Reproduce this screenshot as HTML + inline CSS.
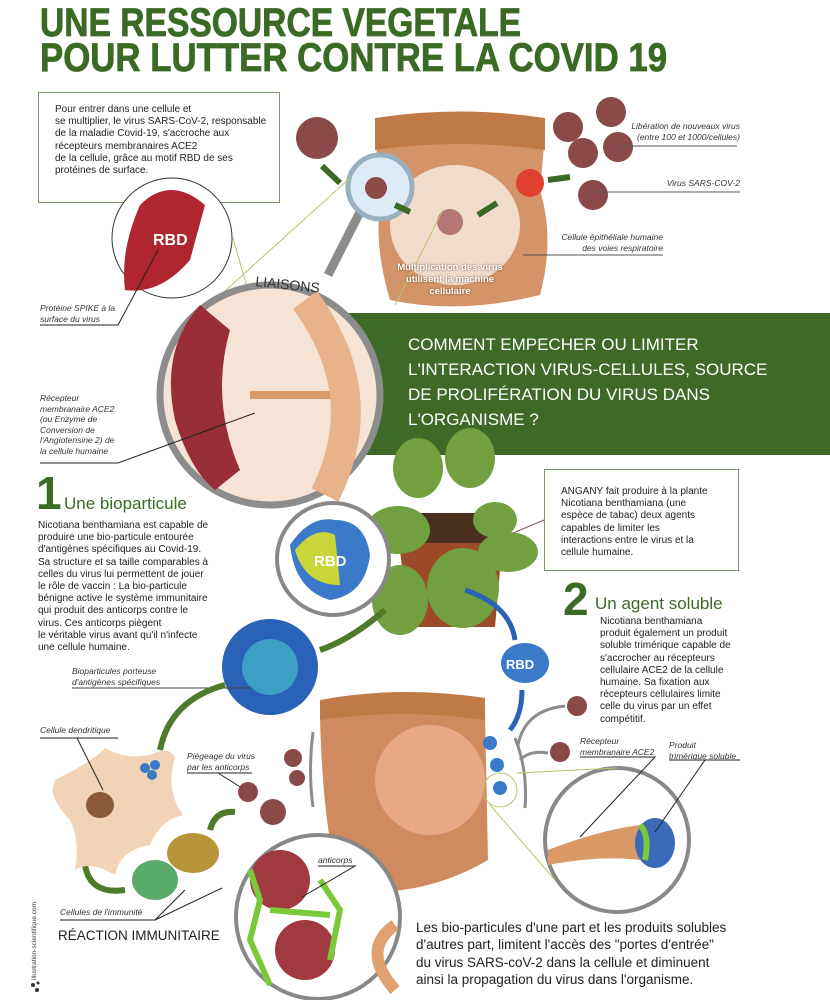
<!DOCTYPE html>
<html><head><meta charset="utf-8"><style>
body{margin:0;width:830px;height:1000px;background:#fff;position:relative;overflow:hidden;font-family:"Liberation Sans",sans-serif;}
.a{position:absolute;white-space:nowrap}
.t{font-family:"Liberation Sans Narrow","Liberation Sans",sans-serif;font-weight:bold;color:#3b6a25;font-size:40px;line-height:36px;transform-origin:left top;-webkit-text-stroke:0.8px #3b6a25}
.m{font-size:10px;line-height:12.2px;color:#222}
.i{font-style:italic;font-size:8.5px;line-height:10.5px;color:#333}
</style></head><body>
<div class="a t" style="left:40px;top:5px;transform:scaleX(0.84)">UNE RESSOURCE VEGETALE</div>
<div class="a t" style="left:40px;top:40px;transform:scaleX(0.87)">POUR LUTTER CONTRE LA COVID 19</div>

<svg class="a" style="left:0;top:0" width="830" height="1000">
<rect x="38.5" y="92.5" width="241" height="110" fill="none" stroke="#7a9a6a"/>
<path d="M375 140 Q460 118 545 135 L540 190 Q555 240 540 295 Q460 315 390 300 Q372 240 382 190 Z" fill="#d29468"/>
<path d="M375 118 Q460 105 545 118 L545 150 Q460 138 375 150 Z" fill="#c07a48"/>
<ellipse cx="455" cy="225" rx="65" ry="60" fill="#f1dccb"/>
<circle cx="450" cy="222" r="13" fill="#a0555a" opacity=".75"/>
<line x1="360" y1="212" x2="328" y2="275" stroke="#8c8c8c" stroke-width="9"/>
<circle cx="380" cy="187" r="32" fill="#dcebf5" stroke="#9ab0bf" stroke-width="5"/>
<circle cx="376" cy="188" r="11" fill="#8a4a4a"/>
<g fill="#8a4a4a"><circle cx="317" cy="138" r="21"/><circle cx="611" cy="112" r="15"/><circle cx="568" cy="127" r="15"/><circle cx="583" cy="153" r="15"/><circle cx="618" cy="147" r="15"/><circle cx="593" cy="195" r="15"/></g>
<circle cx="530" cy="183" r="14" fill="#e04030"/>
<g stroke="#3b6a25" stroke-width="6" fill="none"><path d="M322 166 L340 183"/><path d="M395 205 L410 212"/><path d="M478 215 L497 203"/><path d="M548 180 L570 177"/></g>
<g stroke="#555" stroke-width="1"><line x1="620" y1="146" x2="737" y2="146"/><line x1="597" y1="192" x2="740" y2="192"/><line x1="523" y1="255" x2="663" y2="255"/></g>
<g stroke="#b5c46a" stroke-width="1" fill="none"><line x1="350" y1="178" x2="215" y2="300"/><line x1="233" y1="238" x2="262" y2="340"/><line x1="443" y1="210" x2="395" y2="305"/></g>
<circle cx="172" cy="238" r="60" fill="#fff" stroke="#333" stroke-width="1"/>
<path d="M140 205 Q170 175 205 205 L190 260 Q160 295 125 290 Q120 250 140 205 Z" fill="#b0262e"/>
<text x="153" y="245" fill="#fff" font-weight="bold" font-size="16" font-family="Liberation Sans">RBD</text>
<polyline points="158,250 118,325 40,325" stroke="#222" fill="none"/>
<rect x="340" y="313" width="490" height="142" fill="#3e6a27"/>
<circle cx="270" cy="395" r="110" fill="#f5e4d6" stroke="#8c8c8c" stroke-width="7"/>
<path d="M200 305 Q160 350 175 420 Q190 470 215 490 L240 470 Q210 400 230 330 Z" fill="#9a2e36"/>
<path d="M250 395 L335 395" stroke="#d69a6a" stroke-width="8"/>
<path d="M305 300 Q375 395 325 495" stroke="#e8b28a" stroke-width="30" fill="none"/>
<text x="255" y="286" font-size="14" fill="#333" font-family="Liberation Sans" transform="rotate(6 255 286)">LIAISONS</text>
<polyline points="255,413 118,463 40,463" stroke="#222" fill="none"/>
<path d="M395 513 L505 513 L495 627 L410 627 Z" fill="#9c4a28"/>
<rect x="405" y="513" width="90" height="30" fill="#4a2e1e"/>
<g fill="#72a040"><ellipse cx="418" cy="468" rx="25" ry="30"/><ellipse cx="470" cy="458" rx="25" ry="30"/><ellipse cx="398" cy="530" rx="32" ry="24"/><ellipse cx="495" cy="520" rx="22" ry="18"/><ellipse cx="508" cy="552" rx="30" ry="20"/><ellipse cx="400" cy="600" rx="28" ry="35"/><ellipse cx="463" cy="588" rx="36" ry="40"/></g>
<line x1="513" y1="533" x2="544" y2="520" stroke="#8a5a6a"/>
<circle cx="333" cy="559" r="56" fill="#fff" stroke="#888" stroke-width="4"/>
<path d="M290 545 Q310 515 335 520 Q365 520 370 555 Q365 595 330 600 Q295 590 290 545Z" fill="#3a7ac8"/>
<path d="M295 550 Q315 525 335 535 L340 585 Q305 585 295 550Z" fill="#c9d63a"/>
<text x="314" y="566" fill="#fff" font-weight="bold" font-size="15" font-family="Liberation Sans">RBD</text>
<circle cx="270" cy="667" r="48" fill="#2a62b8"/>
<circle cx="270" cy="667" r="28" fill="#3d9fc4"/>
<polyline points="252,688 228,688 72,688" stroke="#444" fill="none"/>
<g stroke="#4e7a2a" stroke-width="6" fill="none"><path d="M385 610 Q350 640 320 650"/><path d="M225 685 Q170 700 160 750"/><path d="M85 865 Q90 895 125 890"/><path d="M210 830 Q215 810 235 812"/></g>
<path d="M465 590 Q510 605 515 640" stroke="#2a62b8" stroke-width="5" fill="none"/>
<path d="M522 690 Q522 715 510 730" stroke="#2a62b8" stroke-width="5" fill="none"/>
<ellipse cx="525" cy="663" rx="24" ry="20" fill="#3a7ac8"/>
<text x="506" y="669" fill="#fff" font-weight="bold" font-size="13" font-family="Liberation Sans">RBD</text>
<path d="M55 780 Q95 760 105 748 Q125 760 150 755 Q170 745 175 758 Q165 790 183 815 Q160 820 150 845 Q120 850 115 875 Q90 860 75 870 Q80 840 70 820 Q55 805 52 790 Z" fill="#f3d3b6"/>
<ellipse cx="100" cy="805" rx="14" ry="13" fill="#8a5a3a"/>
<g fill="#3a7ac8"><circle cx="145" cy="768" r="5"/><circle cx="155" cy="765" r="5"/><circle cx="152" cy="775" r="5"/></g>
<ellipse cx="193" cy="853" rx="26" ry="20" fill="#b8943a"/>
<ellipse cx="155" cy="880" rx="23" ry="20" fill="#5aaa6a"/>
<g stroke="#222" fill="none"><polyline points="40,738 118,738"/><line x1="77" y1="738" x2="103" y2="790"/><polyline points="60,920 155,920 185,890"/><line x1="155" y1="920" x2="222" y2="888"/><polyline points="187,773 252,773"/><line x1="218" y1="773" x2="250" y2="793"/></g>
<path d="M320 715 Q400 700 485 712 L488 860 Q420 900 340 890 Q322 820 320 715 Z" fill="#d08a60"/>
<path d="M320 700 Q400 685 485 698 L485 720 Q400 708 320 720 Z" fill="#c07a48"/>
<ellipse cx="430" cy="780" rx="55" ry="55" fill="#e7a886"/>
<path d="M313 732 Q308 770 313 807" stroke="#8c8c8c" stroke-width="3" fill="none"/>
<path d="M515 738 Q528 770 525 808" stroke="#8c8c8c" stroke-width="3" fill="none"/>
<path d="M518 745 Q525 710 565 706" stroke="#8c8c8c" stroke-width="3" fill="none"/>
<path d="M520 760 Q530 750 548 753" stroke="#8c8c8c" stroke-width="3" fill="none"/>
<g fill="#3a7ac8"><circle cx="490" cy="743" r="7"/><circle cx="497" cy="765" r="7"/><circle cx="500" cy="788" r="7"/></g>
<circle cx="500" cy="790" r="17" fill="none" stroke="#b5c46a"/>
<g fill="#8a4a4a"><circle cx="293" cy="758" r="9"/><circle cx="297" cy="778" r="8"/><circle cx="248" cy="792" r="10"/><circle cx="273" cy="812" r="13"/><circle cx="577" cy="706" r="10"/><circle cx="560" cy="752" r="10"/></g>
<circle cx="617" cy="840" r="72" fill="#fff" stroke="#888" stroke-width="4"/>
<path d="M548 850 Q600 830 640 825 L640 860 Q600 855 548 865 Z" fill="#d99a68"/>
<ellipse cx="655" cy="843" rx="20" ry="25" fill="#3a6ab8"/>
<path d="M640 825 Q650 835 645 860" stroke="#7ac93a" stroke-width="6" fill="none"/>
<g stroke="#222" fill="none"><polyline points="580,757 655,757 580,837"/><polyline points="669,760 740,760"/><line x1="705" y1="760" x2="655" y2="832"/></g>
<line x1="517" y1="773" x2="617" y2="768" stroke="#b5c46a"/>
<line x1="490" y1="805" x2="555" y2="880" stroke="#b5c46a"/>
<circle cx="318" cy="917" r="82" fill="#fff" stroke="#888" stroke-width="4"/>
<circle cx="280" cy="880" r="30" fill="#a03a40"/><circle cx="305" cy="950" r="30" fill="#a03a40"/>
<g stroke="#7ac93a" stroke-width="6" fill="none"><path d="M250 870 L260 900 L250 940 L270 985"/><path d="M320 880 L340 910 L330 960"/><path d="M270 910 L330 915"/></g>
<path d="M395 925 Q360 950 395 990" stroke="#e0a070" stroke-width="12" fill="none"/>
<polyline points="318,866 355,866 302,897" stroke="#222" fill="none"/>
<g fill="#333"><circle cx="37" cy="990" r="2"/><circle cx="33" cy="985" r="2"/><circle cx="38" cy="983" r="1.5"/></g>
</svg>

<div class="a m" style="left:55px;top:104px">Pour entrer dans une cellule et<br>se multiplier, le virus SARS-CoV-2, responsable<br>de la maladie Covid-19, s'accroche aux<br>récepteurs membranaires ACE2<br>de la cellule, grâce au motif RBD de ses<br>protéines de surface.</div>
<div class="a i" style="left:560px;top:121px;width:180px;text-align:right">Libération de nouveaux virus<br>(entre 100 et 1000/cellules)</div>
<div class="a i" style="left:600px;top:178px;width:140px;text-align:right">Virus SARS-COV-2</div>
<div class="a i" style="left:523px;top:232px;width:140px;text-align:right">Cellule épithéliale humaine<br>des voies respiratoire</div>
<div class="a" style="left:385px;top:262px;width:130px;text-align:center;color:#fff;font-weight:bold;font-size:9.5px;line-height:12px;text-shadow:0 0 2px #6a4020">Multiplication des virus<br>utilisent la machine<br>cellulaire</div>
<div class="a i" style="left:40px;top:303px">Protéine SPIKE à la<br>surface du virus</div>
<div class="a i" style="left:40px;top:393px">Récepteur<br>membranaire ACE2<br>(ou Enzyme de<br>Conversion de<br>l'Angiotensine 2) de<br>la cellule humaine</div>
<div class="a" style="left:408px;top:332px;color:#fff;font-size:17px;line-height:25px">COMMENT EMPECHER OU LIMITER<br>L'INTERACTION VIRUS-CELLULES, SOURCE<br>DE PROLIFÉRATION DU VIRUS DANS<br>L'ORGANISME ?</div>

<div class="a" style="left:36px;top:468px;color:#3b6a25;font-size:46px;line-height:50px;font-weight:bold">1</div>
<div class="a" style="left:64px;top:494px;color:#3b6a25;font-size:17px;line-height:20px">Une bioparticule</div>
<div class="a m" style="left:38px;top:520px">Nicotiana benthamiana est capable de<br>produire une bio-particule entourée<br>d'antigènes spécifiques au Covid-19.<br>Sa structure et sa taille comparables à<br>celles du virus lui permettent de jouer<br>le rôle de vaccin : La bio-particule<br>bénigne active le système immunitaire<br>qui produit des anticorps contre le<br>virus. Ces anticorps piègent<br>le véritable virus avant qu'il n'infecte<br>une cellule humaine.</div>
<div class="a" style="left:544px;top:469px;width:193px;height:100px;border:1px solid #7a9a6a;background:#fff"></div>
<div class="a m" style="left:561px;top:486px">ANGANY fait produire à la plante<br>Nicotiana benthamiana (une<br>espèce de tabac) deux agents<br>capables de limiter les<br>interactions entre le virus et la<br>cellule humaine.</div>
<div class="a" style="left:563px;top:574px;color:#3b6a25;font-size:46px;line-height:50px;font-weight:bold">2</div>
<div class="a" style="left:595px;top:594px;color:#3b6a25;font-size:17px;line-height:20px">Un agent soluble</div>
<div class="a m" style="left:600px;top:616px">Nicotiana benthamiana<br>produit également un produit<br>soluble trimérique capable de<br>s'accrocher au récepteurs<br>cellulaire ACE2 de la cellule<br>humaine. Sa fixation aux<br>récepteurs cellulaires limite<br>celle du virus par un effet<br>compétitif.</div>
<div class="a i" style="left:72px;top:666px">Bioparticules porteuse<br>d'antigènes spécifiques</div>
<div class="a i" style="left:40px;top:725px">Cellule dendritique</div>
<div class="a i" style="left:187px;top:751px">Piégeage du virus<br>par les anticorps</div>
<div class="a i" style="left:580px;top:736px">Récepteur<br>membranaire ACE2</div>
<div class="a i" style="left:669px;top:740px">Produit<br>trimérique soluble</div>
<div class="a i" style="left:318px;top:855px">anticorps</div>
<div class="a i" style="left:60px;top:907px">Cellules de l'immunité</div>
<div class="a" style="left:58px;top:928px;font-size:13.5px;color:#222">RÉACTION IMMUNITAIRE</div>
<div class="a" style="left:416px;top:919px;font-size:13.5px;line-height:17.3px;color:#222">Les bio-particules d'une part et les produits solubles<br>d'autres part, limitent l'accès des "portes d'entrée"<br>du virus SARS-coV-2 dans la cellule et diminuent<br>ainsi la propagation du virus dans l'organisme.</div>
<div class="a" style="left:31px;top:980px;font-size:6.5px;color:#444;transform:rotate(-90deg);transform-origin:left top">illustration-scientifique.com</div>
</body></html>
